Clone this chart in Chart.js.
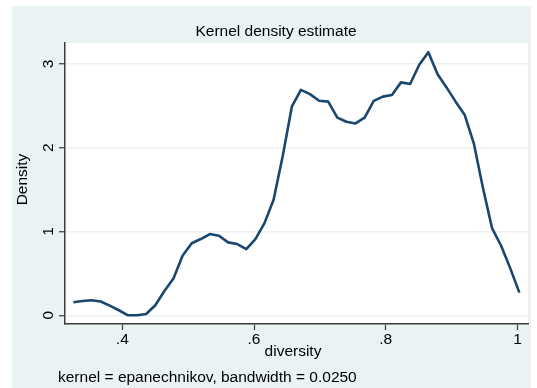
<!DOCTYPE html>
<html>
<head>
<meta charset="utf-8">
<script src="https://cdn.jsdelivr.net/npm/chart.js@4"></script>
<style>
  html, body { margin: 0; padding: 0; background: #ffffff; }
  canvas { display: block; }
</style>
</head>
<body>
<canvas id="kde" width="537" height="388"></canvas>
<script>
// Evaluation grid of the kernel density estimate
const diversity = [
  0.3257, 0.3395, 0.3533, 0.3672, 0.3810, 0.3948, 0.4086, 0.4224, 0.4363, 0.4501,
  0.4639, 0.4777, 0.4915, 0.5054, 0.5192, 0.5330, 0.5468, 0.5606, 0.5745, 0.5883,
  0.6021, 0.6159, 0.6297, 0.6436, 0.6574, 0.6712, 0.6850, 0.6988, 0.7127, 0.7265,
  0.7403, 0.7541, 0.7679, 0.7818, 0.7956, 0.8094, 0.8232, 0.8370, 0.8509, 0.8647,
  0.8785, 0.8923, 0.9061, 0.9200, 0.9338, 0.9476, 0.9614, 0.9752, 0.9891, 1.0029
];

// Estimated density at each grid point
const density = [
  0.155, 0.17, 0.18, 0.165, 0.115, 0.06, 0.0, 0.0, 0.015, 0.12,
  0.29, 0.44, 0.71, 0.86, 0.91, 0.97, 0.95, 0.87, 0.85, 0.79,
  0.91, 1.10, 1.38, 1.90, 2.49, 2.69, 2.64, 2.56, 2.55, 2.36,
  2.31, 2.29, 2.36, 2.56, 2.61, 2.63, 2.78, 2.76, 2.99, 3.14,
  2.88, 2.72, 2.55, 2.39, 2.05, 1.52, 1.04, 0.83, 0.56, 0.27
];

// Axis ticks and their labels
const xTickValues = [0.4, 0.6, 0.8, 1];
const xTickLabels = ['.4', '.6', '.8', '1'];
const yTickValues = [0, 1, 2, 3];
const yTickLabels = ['0', '1', '2', '3'];

const titleText = 'Kernel density estimate';
const xTitle = 'diversity';
const yTitle = 'Density';
const noteText = 'kernel = epanechnikov, bandwidth = 0.0250';

const FONT = '"Liberation Sans", Arial, Helvetica, sans-serif';
const REGION_BG = '#eaf2f3';
const LINE_COLOR = '#1a476f';
const AXIS_COLOR = '#3c3c3c';

const points = diversity.map((x, i) => ({ x: x, y: density[i] }));

const backdrop = {
  id: 'backdrop',
  beforeDraw(chart) {
    const ctx = chart.ctx;
    const a = chart.chartArea;
    ctx.save();
    ctx.fillStyle = '#ffffff';
    ctx.fillRect(0, 0, chart.width, chart.height);
    ctx.fillStyle = REGION_BG;
    ctx.fillRect(12, 6, 519, chart.height - 6);
    ctx.fillStyle = '#ffffff';
    ctx.fillRect(a.left, a.top, a.right - a.left, a.bottom - a.top);
    ctx.restore();
  }
};

const annotations = {
  id: 'annotations',
  afterDraw(chart) {
    const ctx = chart.ctx;
    const y = chart.scales.y;
    ctx.save();
    ctx.fillStyle = '#000000';
    ctx.font = '15.5px ' + FONT;

    // title
    ctx.textAlign = 'center';
    ctx.textBaseline = 'alphabetic';
    ctx.fillText(titleText, 276, 36);

    // x axis title
    ctx.fillText(xTitle, 293, 356);

    // note under the graph
    ctx.textAlign = 'left';
    ctx.fillText(noteText, 58, 382);

    // rotated y tick labels
    ctx.textAlign = 'center';
    yTickValues.forEach((v, i) => {
      const py = y.getPixelForValue(v);
      ctx.save();
      ctx.translate(53, py);
      ctx.rotate(-Math.PI / 2);
      ctx.fillText(yTickLabels[i], 0, 0);
      ctx.restore();
    });

    // rotated y axis title
    ctx.save();
    ctx.translate(27, (y.top + y.bottom) / 2 - 4);
    ctx.rotate(-Math.PI / 2);
    ctx.fillText(yTitle, 0, 0);
    ctx.restore();

    ctx.restore();
  }
};

new Chart(document.getElementById('kde'), {
  type: 'line',
  data: {
    datasets: [{
      data: points,
      borderColor: LINE_COLOR,
      borderWidth: 2.6,
      pointRadius: 0,
      tension: 0,
      fill: false,
      borderJoinStyle: 'round'
    }]
  },
  options: {
    responsive: false,
    animation: false,
    devicePixelRatio: 1,
    layout: { padding: { left: 0, top: 43, right: 9, bottom: 0 } },
    plugins: {
      legend: { display: false },
      title: { display: false },
      tooltip: { enabled: false }
    },
    scales: {
      x: {
        type: 'linear',
        min: 0.313,
        max: 1.016,
        afterBuildTicks(scale) {
          scale.ticks = xTickValues.map(v => ({ value: v }));
        },
        afterFit(scale) { scale.height = 64; },
        ticks: {
          padding: 0,
          autoSkip: false,
          maxRotation: 0,
          color: '#000000',
          font: { family: FONT, size: 15.5 },
          callback(value) {
            const i = xTickValues.indexOf(value);
            return i >= 0 ? xTickLabels[i] : '';
          }
        },
        grid: {
          drawOnChartArea: false,
          drawTicks: true,
          tickLength: 6,
          tickColor: AXIS_COLOR,
          tickWidth: 1.2
        },
        border: { display: true, color: AXIS_COLOR, width: 1.5 }
      },
      y: {
        type: 'linear',
        min: -0.104,
        max: 3.25,
        afterBuildTicks(scale) {
          scale.ticks = yTickValues.map(v => ({ value: v }));
        },
        afterFit(scale) { scale.width = 65; },
        ticks: {
          color: 'rgba(0,0,0,0)',
          font: { family: FONT, size: 15.5 }
        },
        grid: {
          drawOnChartArea: true,
          color: REGION_BG,
          lineWidth: 1.5,
          drawTicks: true,
          tickLength: 6,
          tickColor: AXIS_COLOR,
          tickWidth: 1.2
        },
        border: { display: true, color: AXIS_COLOR, width: 1.5 }
      }
    }
  },
  plugins: [backdrop, annotations]
});
</script>
</body>
</html>
